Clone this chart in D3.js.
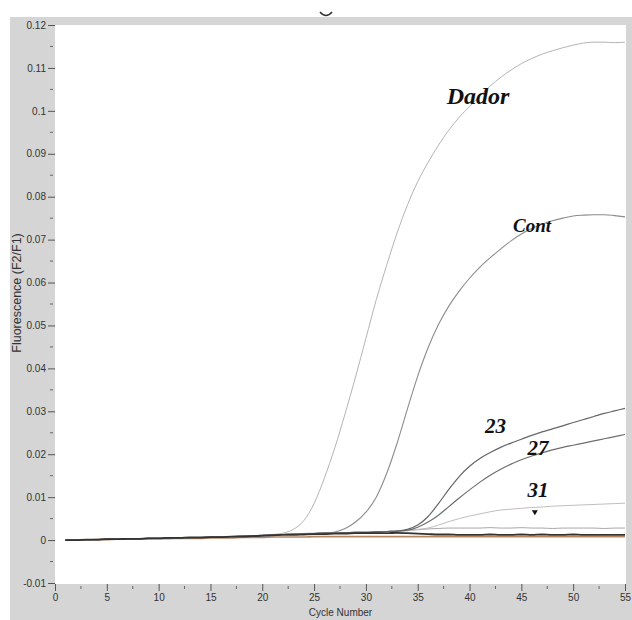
<!DOCTYPE html>
<html>
<head>
<meta charset="utf-8">
<script src="https://cdn.jsdelivr.net/npm/d3@7"></script>
<style>
    body { margin: 0; background: #fff; }
    svg { display: block; }
    .tick-label { font-family: Arial, "Liberation Sans", sans-serif; font-size: 10px; fill: #333; }
    .curve-label { font-family: "Liberation Serif", "Times New Roman", serif; font-style: italic; font-weight: bold; fill: #111; }
</style>
</head>
<body>
<svg id="chart" width="632" height="620"></svg>
<script>
// cycle numbers 1..55
const cycles = d3.range(1, 56);

const xTicks = [0, 5, 10, 15, 20, 25, 30, 35, 40, 45, 50, 55];
const yTicks = [-0.01, 0, 0.01, 0.02, 0.03, 0.04, 0.05, 0.06, 0.07, 0.08, 0.09, 0.1, 0.11, 0.12];

const dador = [
    0.0000, 0.0000, 0.0001, 0.0001, 0.0002, 0.0002, 0.0003, 0.0003, 0.0004, 0.0004,
    0.0005, 0.0005, 0.0006, 0.0006, 0.0007, 0.0008, 0.0008, 0.0009, 0.0010, 0.0011,
    0.0013, 0.0016, 0.0025, 0.0045, 0.0085, 0.0145, 0.0215, 0.0295, 0.0380, 0.0470,
    0.0560, 0.0640, 0.0715, 0.0780, 0.0835, 0.0880, 0.0920, 0.0955, 0.0985, 0.1010,
    0.1035, 0.1058, 0.1078, 0.1095, 0.1110, 0.1122, 0.1132, 0.1140, 0.1147, 0.1153,
    0.1158, 0.1160, 0.1160, 0.1159, 0.1160,
];
const cont = [
    0.0000, 0.0000, 0.0001, 0.0001, 0.0002, 0.0002, 0.0003, 0.0003, 0.0004, 0.0004,
    0.0005, 0.0005, 0.0006, 0.0006, 0.0007, 0.0007, 0.0008, 0.0009, 0.0010, 0.0011,
    0.0012, 0.0013, 0.0014, 0.0015, 0.0016, 0.0017, 0.0019, 0.0027, 0.0042, 0.0065,
    0.0100, 0.0155, 0.0225, 0.0305, 0.0382, 0.0448, 0.0502, 0.0545, 0.0580, 0.0610,
    0.0636, 0.0658, 0.0678, 0.0697, 0.0713, 0.0726, 0.0736, 0.0744, 0.0750, 0.0755,
    0.0757, 0.0758, 0.0758, 0.0756, 0.0753,
];
const s23 = [
    0.0000, 0.0000, 0.0001, 0.0001, 0.0002, 0.0002, 0.0003, 0.0003, 0.0004, 0.0004,
    0.0005, 0.0005, 0.0006, 0.0006, 0.0007, 0.0007, 0.0008, 0.0009, 0.0010, 0.0011,
    0.0012, 0.0013, 0.0014, 0.0014, 0.0015, 0.0016, 0.0016, 0.0017, 0.0018, 0.0018,
    0.0019, 0.0020, 0.0021, 0.0025, 0.0035, 0.0055, 0.0085, 0.0118, 0.0148, 0.0172,
    0.0190, 0.0204, 0.0216, 0.0226, 0.0235, 0.0244, 0.0252, 0.0259, 0.0266, 0.0274,
    0.0281, 0.0288, 0.0295, 0.0301, 0.0307,
];
const s27 = [
    0.0000, 0.0000, 0.0001, 0.0001, 0.0002, 0.0002, 0.0003, 0.0003, 0.0004, 0.0004,
    0.0005, 0.0005, 0.0006, 0.0006, 0.0007, 0.0007, 0.0008, 0.0009, 0.0010, 0.0011,
    0.0012, 0.0013, 0.0014, 0.0014, 0.0015, 0.0016, 0.0016, 0.0017, 0.0018, 0.0018,
    0.0019, 0.0020, 0.0021, 0.0023, 0.0030, 0.0042, 0.0058, 0.0078, 0.0098, 0.0117,
    0.0135, 0.0151, 0.0165, 0.0177, 0.0187, 0.0196, 0.0203, 0.0210, 0.0216, 0.0221,
    0.0226, 0.0231, 0.0236, 0.0241, 0.0246,
];
const s31 = [
    0.0000, 0.0000, 0.0001, 0.0001, 0.0002, 0.0002, 0.0003, 0.0003, 0.0004, 0.0004,
    0.0005, 0.0005, 0.0006, 0.0006, 0.0007, 0.0007, 0.0008, 0.0009, 0.0010, 0.0011,
    0.0012, 0.0013, 0.0014, 0.0014, 0.0015, 0.0016, 0.0016, 0.0017, 0.0018, 0.0018,
    0.0019, 0.0020, 0.0021, 0.0022, 0.0025, 0.0028, 0.0035, 0.0043, 0.0050, 0.0056,
    0.0061, 0.0066, 0.0070, 0.0072, 0.0074, 0.0076, 0.0077, 0.0079, 0.0080, 0.0081,
    0.0082, 0.0083, 0.0084, 0.0085, 0.0086,
];
// negatives / no-template wells
const negA = [
    0.0000, 0.0000, 0.0001, 0.0001, 0.0002, 0.0002, 0.0003, 0.0003, 0.0004, 0.0004,
    0.0005, 0.0005, 0.0006, 0.0006, 0.0007, 0.0007, 0.0008, 0.0009, 0.0010, 0.0011,
    0.0012, 0.0013, 0.0014, 0.0014, 0.0015, 0.0016, 0.0016, 0.0017, 0.0018, 0.0018,
    0.0019, 0.0020, 0.0021, 0.0022, 0.0024, 0.0026, 0.0027, 0.0028, 0.0028, 0.0028,
    0.0028, 0.0029, 0.0028, 0.0028, 0.0029, 0.0028, 0.0028, 0.0027, 0.0028, 0.0028,
    0.0028, 0.0028, 0.0027, 0.0028, 0.0028,
];
const negB = [
    0.0000, 0.0000, 0.0001, 0.0001, 0.0002, 0.0002, 0.0003, 0.0003, 0.0004, 0.0004,
    0.0005, 0.0005, 0.0006, 0.0006, 0.0007, 0.0007, 0.0008, 0.0008, 0.0009, 0.0010,
    0.0011, 0.0012, 0.0012, 0.0013, 0.0014, 0.0014, 0.0015, 0.0015, 0.0016, 0.0016,
    0.0016, 0.0016, 0.0017, 0.0016, 0.0015, 0.0014, 0.0013, 0.0013, 0.0012, 0.0012,
    0.0012, 0.0013, 0.0012, 0.0012, 0.0013, 0.0012, 0.0013, 0.0012, 0.0012, 0.0013,
    0.0012, 0.0012, 0.0012, 0.0012, 0.0012,
];
const negC = [
    0.0000, 0.0000, 0.0000, 0.0001, 0.0001, 0.0002, 0.0002, 0.0002, 0.0003, 0.0003,
    0.0003, 0.0004, 0.0004, 0.0004, 0.0005, 0.0005, 0.0005, 0.0006, 0.0006, 0.0006,
    0.0007, 0.0007, 0.0007, 0.0007, 0.0008, 0.0008, 0.0008, 0.0008, 0.0008, 0.0008,
    0.0008, 0.0008, 0.0008, 0.0008, 0.0008, 0.0008, 0.0008, 0.0008, 0.0008, 0.0008,
    0.0008, 0.0008, 0.0008, 0.0008, 0.0008, 0.0008, 0.0008, 0.0008, 0.0008, 0.0008,
    0.0008, 0.0008, 0.0008, 0.0008, 0.0008,
];

const series = [
    { name: 'negC', values: negC, color: '#b58662', width: 1.6 },
    { name: 'negA', values: negA, color: '#a8a8a8', width: 1 },
    { name: 'Dador', values: dador, color: '#b4b4b4', width: 1 },
    { name: 'Cont', values: cont, color: '#8c8c8c', width: 1.1 },
    { name: '31', values: s31, color: '#c4bcbc', width: 1 },
    { name: '27', values: s27, color: '#6e6e6e', width: 1.2 },
    { name: '23', values: s23, color: '#666666', width: 1.2 },
    { name: 'negB', values: negB, color: '#333333', width: 1.8 },
];

// text labels placed on the curves (cycle, value)
const labels = [
    { text: 'Dador', cycle: 37.8, value: 0.1016, size: 24 },
    { text: 'Cont', cycle: 44.2, value: 0.0718, size: 19 },
    { text: '23', cycle: 41.5, value: 0.0249, size: 21 },
    { text: '27', cycle: 45.6, value: 0.0198, size: 21 },
    { text: '31', cycle: 45.6, value: 0.0100, size: 21 },
];

const svg = d3.select('#chart');
const plot = { left: 55, right: 626, top: 25, bottom: 584 };

const x = d3.scaleLinear().domain([0, 55]).range([55, 625]);
const y = d3.scaleLinear().domain([-0.01, 0.12]).range([583, 25]);

// gray window background
svg.append('rect')
    .attr('x', 10).attr('y', 17)
    .attr('width', 622).attr('height', 603)
    .attr('fill', '#d5d5d5');
svg.append('rect')
    .attr('x', plot.left).attr('y', plot.top)
    .attr('width', plot.right - plot.left).attr('height', plot.bottom - plot.top)
    .attr('fill', '#fff');

// small chevron above the window
svg.append('path')
    .attr('d', 'M320,12 Q326,19 332,12')
    .attr('fill', 'none')
    .attr('stroke', '#333')
    .attr('stroke-width', 1.5);

// y axis
const yAxis = d3.axisLeft(y)
    .tickValues(yTicks)
    .tickSize(7)
    .tickPadding(2)
    .tickFormat((d) => String(+d.toFixed(2)));
const gy = svg.append('g')
    .attr('transform', `translate(${ plot.left },0)`)
    .call(yAxis);
gy.select('.domain').remove();
gy.selectAll('line').attr('stroke', '#555');
gy.selectAll('text').attr('class', 'tick-label');

gy.selectAll('.minor')
    .data(yTicks.slice(0, -1).map((d) => d + 0.005))
    .enter()
    .append('line')
    .attr('class', 'minor')
    .attr('x1', -5).attr('x2', -2)
    .attr('y1', (d) => y(d)).attr('y2', (d) => y(d))
    .attr('stroke', '#666');

// x axis
const xAxis = d3.axisBottom(x)
    .tickValues(xTicks)
    .tickSize(7)
    .tickPadding(3)
    .tickFormat(d3.format('d'));
const gx = svg.append('g')
    .attr('transform', `translate(0,${ plot.bottom })`)
    .call(xAxis);
gx.select('.domain').remove();
gx.selectAll('line').attr('stroke', '#555');
gx.selectAll('text').attr('class', 'tick-label');

gx.selectAll('.minor')
    .data(xTicks.slice(0, -1).map((d) => d + 2.5))
    .enter()
    .append('line')
    .attr('class', 'minor')
    .attr('x1', (d) => x(d)).attr('x2', (d) => x(d))
    .attr('y1', 2).attr('y2', 5)
    .attr('stroke', '#666');

// axis titles
svg.append('text')
    .attr('class', 'tick-label')
    .attr('x', (plot.left + plot.right) / 2)
    .attr('y', 616)
    .style('text-anchor', 'middle')
    .text('Cycle Number');

svg.append('text')
    .attr('class', 'tick-label')
    .attr('transform', 'translate(21, 293) rotate(-90)')
    .style('text-anchor', 'middle')
    .style('font-size', '12.5px')
    .text('Fluorescence (F2/F1)');

// curves
const line = d3.line()
    .x((d, i) => x(cycles[i]))
    .y((d) => y(d))
    .curve(d3.curveMonotoneX);

svg.append('g')
    .attr('class', 'curves')
    .selectAll('path')
    .data(series)
    .enter()
    .append('path')
    .attr('d', (d) => line(d.values))
    .attr('fill', 'none')
    .attr('stroke', (d) => d.color)
    .attr('stroke-width', (d) => d.width);

// labels
svg.append('g')
    .selectAll('text')
    .data(labels)
    .enter()
    .append('text')
    .attr('class', 'curve-label')
    .attr('x', (d) => x(d.cycle))
    .attr('y', (d) => y(d.value))
    .style('font-size', (d) => d.size + 'px')
    .text((d) => d.text);

// little marker under "31"
const mx = x(46.3);
const my = y(0.0065);
svg.append('path')
    .attr('d', `M${ mx - 3 },${ my - 2 } L${ mx + 3 },${ my - 2 } L${ mx },${ my + 3 } Z`)
    .attr('fill', '#111');
</script>
</body>
</html>
